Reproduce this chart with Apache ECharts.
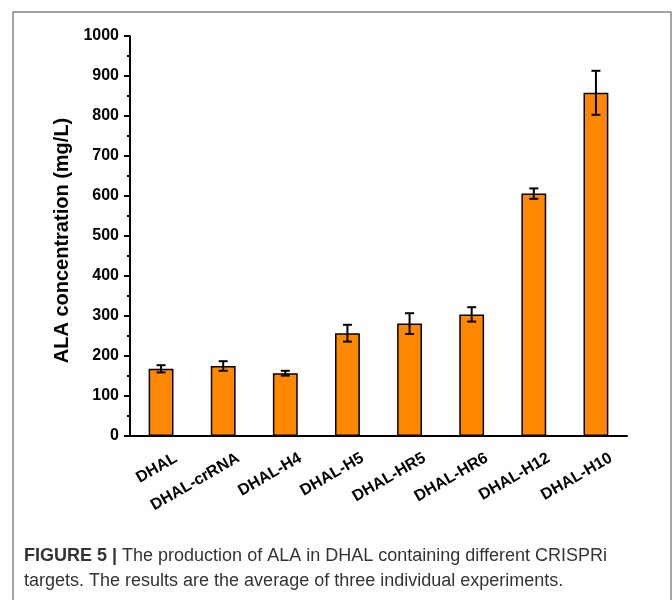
<!DOCTYPE html>
<html>
<head>
<meta charset="utf-8">
<script src="https://cdn.jsdelivr.net/npm/echarts@6/dist/echarts.min.js"></script>
<style>html,body{margin:0;padding:0;background:#fff}#c{width:672px;height:600px}</style>
</head>
<body>
<div id="c"></div>
<script>
var categories = ['DHAL', 'DHAL-crRNA', 'DHAL-H4', 'DHAL-H5', 'DHAL-HR5', 'DHAL-HR6', 'DHAL-H12', 'DHAL-H10'];
var means = [168, 175, 157, 257, 281, 304, 606, 858];
var errors = [9, 12, 6, 21, 26, 18, 13, 55];
var yTicks = [0, 100, 200, 300, 400, 500, 600, 700, 800, 900, 1000];

var chart = echarts.init(document.getElementById('c'));
var tickFont = 'Liberation Sans';
var errData = categories.map(function (c, i) { return [i, means[i] - errors[i], means[i] + errors[i]]; });

chart.setOption({
  animation: false,
  grid: { left: 130, right: 45, top: 36, bottom: 164 },
  xAxis: [{
    type: 'category',
    data: categories,
    boundaryGap: true,
    axisLine: { lineStyle: { color: '#000', width: 2 } },
    axisTick: { alignWithLabel: true, length: 7, lineStyle: { color: '#000', width: 2 } },
    axisLabel: {
      interval: 0, rotate: 30, margin: -5,
      color: '#000', fontFamily: tickFont, fontWeight: 'bold', fontSize: 16,
      verticalAlign: 'top', lineHeight: 18, padding: [21, 0, 0, 0]
    }
  }, {
    type: 'category',
    data: categories,
    position: 'bottom',
    boundaryGap: true,
    axisLine: { show: false },
    axisTick: { alignWithLabel: false, length: 3, lineStyle: { color: '#000', width: 2 } },
    axisLabel: { show: false }
  }],
  yAxis: {
    type: 'value',
    min: 0, max: 1000, interval: 100,
    name: 'ALA concentration (mg/L)',
    nameLocation: 'middle',
    nameGap: 58,
    nameTextStyle: { color: '#000', fontFamily: 'Liberation Sans', fontWeight: 'bold', fontSize: 20, padding: [0, 9, 0, 0] },
    axisLine: { show: true, lineStyle: { color: '#000', width: 2 } },
    axisTick: { show: true, length: 6, lineStyle: { color: '#000', width: 2 } },
    minorTick: { show: true, splitNumber: 2, length: 3, lineStyle: { color: '#000', width: 2 } },
    splitLine: { show: false },
    axisLabel: {
      margin: 11, color: '#000', fontFamily: tickFont, fontWeight: 'bold', fontSize: 16,
      customValues: yTicks,
      formatter: function (v) { return String(v); }
    }
  },
  series: [{
    type: 'bar',
    data: means,
    barWidth: '40%',
    itemStyle: { color: '#FF8800', borderColor: '#000', borderWidth: 1.5 }
  }, {
    type: 'custom',
    data: errData,
    z: 10,
    renderItem: function (params, api) {
      var x = api.value(0);
      var lo = api.coord([x, api.value(1)]);
      var hi = api.coord([x, api.value(2)]);
      var hw = 4.5;
      var st = { stroke: '#000', lineWidth: 2 };
      return {
        type: 'group',
        children: [
          { type: 'line', shape: { x1: lo[0], y1: lo[1], x2: hi[0], y2: hi[1] }, style: st },
          { type: 'line', shape: { x1: lo[0] - hw, y1: lo[1], x2: lo[0] + hw, y2: lo[1] }, style: st },
          { type: 'line', shape: { x1: hi[0] - hw, y1: hi[1], x2: hi[0] + hw, y2: hi[1] }, style: st }
        ]
      };
    }
  }],
  graphic: [{
    type: 'rect',
    shape: { x: 13, y: 12, width: 658, height: 620 },
    style: { fill: 'none', stroke: '#888', lineWidth: 1.5 },
    silent: true
  }, {
    type: 'text',
    left: 24, top: 544,
    style: {
      text: '{b|FIGURE 5 |} The production of ALA in DHAL containing different CRISPRi\ntargets. The results are the average of three individual experiments.',
      font: '18px "Liberation Sans"',
      fill: '#333',
      lineHeight: 25,
      rich: { b: { fontWeight: 'bold', fontSize: 18, fontFamily: 'Liberation Sans', fill: '#333' } }
    }
  }]
});
</script>
</body>
</html>
